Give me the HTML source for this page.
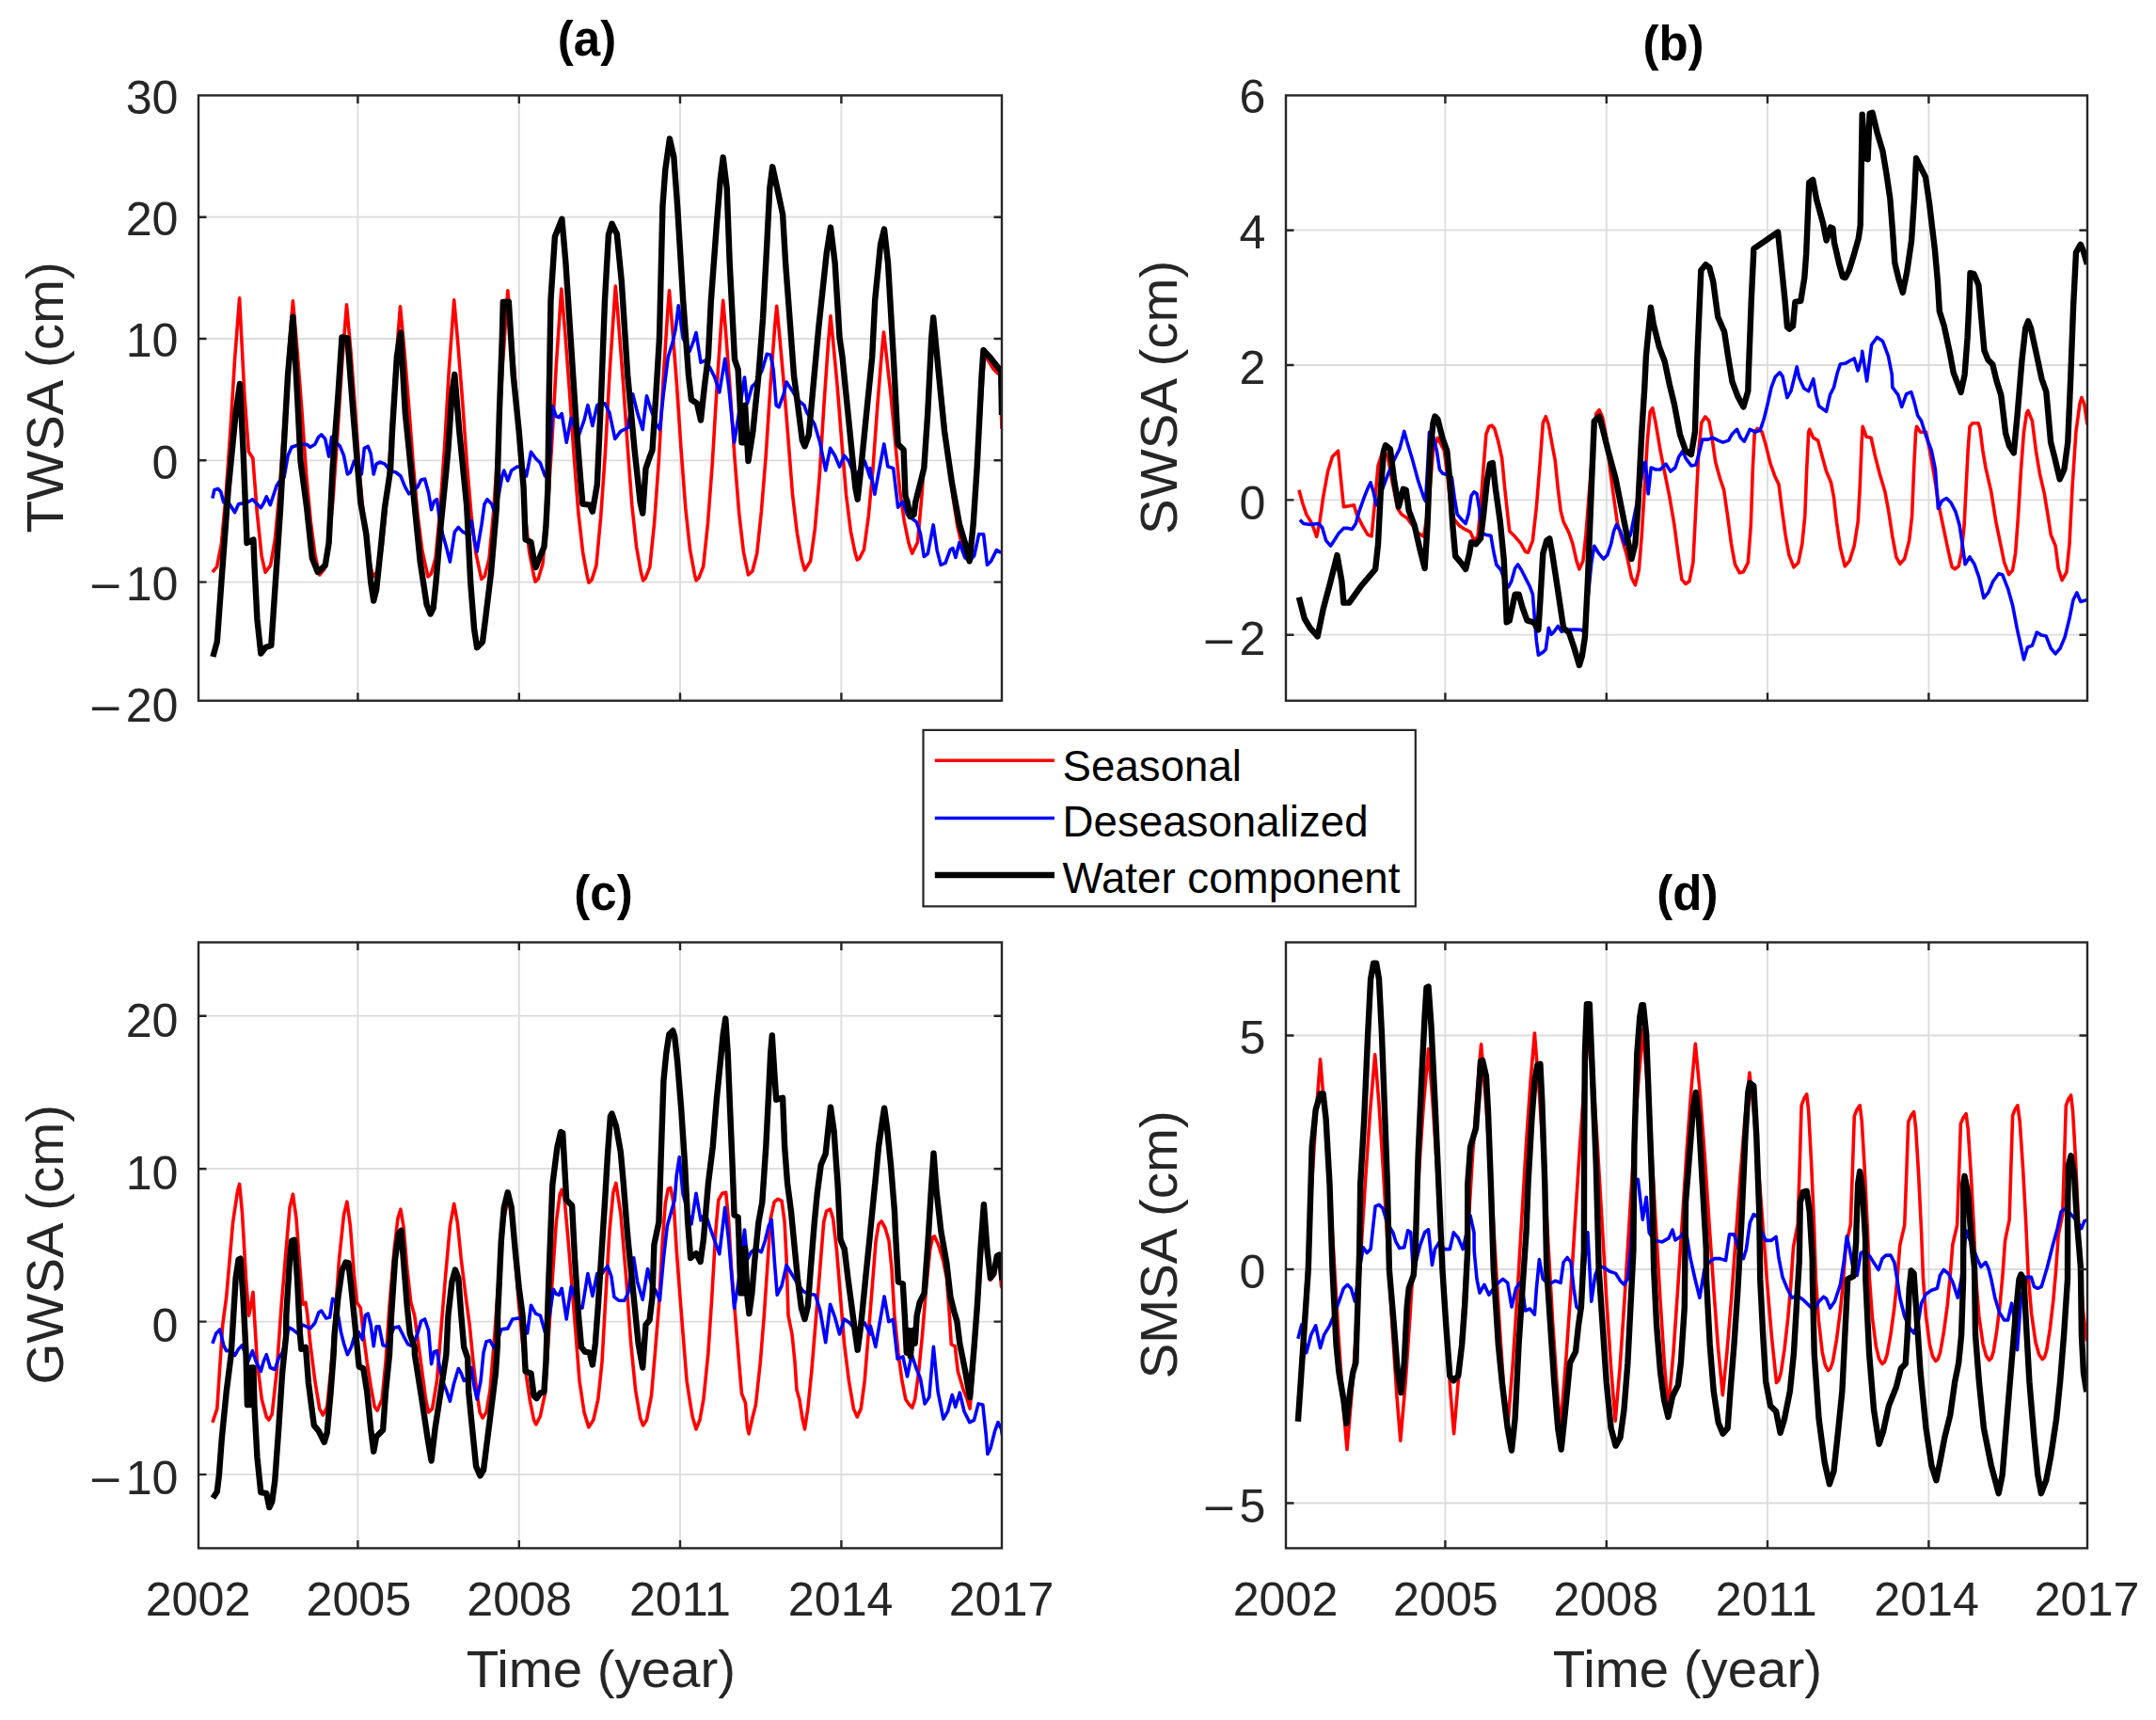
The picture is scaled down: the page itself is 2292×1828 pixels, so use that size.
<!DOCTYPE html>
<html lang="en"><head><meta charset="utf-8"><title>Water storage anomaly components</title>
<style>html,body{margin:0;padding:0;background:#fff}svg{display:block}text{font-family:"Liberation Sans",Arial,Helvetica,sans-serif;fill:#262626}.tk{font-size:50.2px}.lb{font-size:56.4px}.tt{font-size:51px;font-weight:bold;fill:#000}.lg{font-size:45.7px;fill:#000}.ax{fill:none;stroke:#262626;stroke-width:2.4}.gr{stroke:#dcdcdc;stroke-width:1.8;fill:none}.r{fill:none;stroke:#ff0000;stroke-width:3.6;stroke-linejoin:round;stroke-linecap:butt}.b{fill:none;stroke:#0000ff;stroke-width:3.6;stroke-linejoin:round}.k{fill:none;stroke:#000;stroke-width:6.4;stroke-linejoin:round}</style></head><body>
<svg width="2292" height="1828" viewBox="0 0 2292 1828">
<rect width="2292" height="1828" fill="#fff"/>
<g id="panel-a">
<clipPath id="cpa"><rect x="211.0" y="101.4" width="854.0" height="643.3"/></clipPath>
<path class="gr" d="M380.4 101.4 V744.7 M551.8 101.4 V744.7 M723.0 101.4 V744.7 M894.4 101.4 V744.7 M211.0 230.7 H1065.0 M211.0 360.0 H1065.0 M211.0 489.3 H1065.0 M211.0 618.6 H1065.0"/>
<g clip-path="url(#cpa)">
<path class="r" d="M225.9 608.0 L230.6 602.4 L235.4 577.7 L240.1 526.9 L244.9 458.4 L249.6 381.5 L254.6 316.8 L259.8 418.0 L264.3 480.0 L268.8 487.0 L273.3 545.0 L278.1 590.8 L282.1 608.3 L287.6 600.9 L292.3 573.6 L297.1 522.8 L301.8 454.7 L306.5 380.4 L311.4 319.8 L316.0 372.3 L320.8 434.9 L325.5 502.9 L330.3 554.2 L335.0 590.2 L339.7 611.0 L344.5 605.3 L349.2 580.9 L354.0 530.9 L358.7 463.6 L363.5 388.1 L368.5 323.8 L373.0 374.5 L377.7 437.1 L382.5 505.3 L387.2 556.9 L391.9 592.8 L396.5 613.0 L401.4 607.0 L406.2 582.3 L410.9 532.5 L415.7 465.6 L420.4 390.6 L425.5 325.7 L429.9 372.8 L434.6 430.9 L439.4 494.8 L444.1 547.8 L448.9 585.5 L455.0 613.0 L458.4 609.9 L463.1 592.4 L467.8 542.5 L472.6 474.6 L477.3 393.4 L482.7 318.8 L486.8 365.0 L491.6 425.5 L496.3 492.3 L501.1 548.0 L505.8 587.4 L511.8 615.5 L515.3 612.2 L520.0 593.6 L524.8 542.1 L529.5 472.4 L534.3 388.5 L539.8 308.9 L543.7 354.7 L548.5 416.8 L553.2 485.8 L558.0 545.0 L562.7 586.9 L567.5 611.7 L569.1 618.2 L572.2 615.2 L577.0 598.9 L581.7 546.9 L586.4 476.3 L591.2 390.1 L596.8 307.0 L600.7 352.6 L605.4 415.3 L610.2 485.2 L614.9 545.3 L619.7 587.7 L624.4 612.9 L626.0 619.3 L629.1 616.3 L633.9 601.1 L638.6 550.4 L643.4 481.9 L648.1 395.9 L654.3 304.0 L657.6 342.8 L662.3 404.0 L667.1 473.3 L671.8 536.7 L676.6 581.2 L681.3 607.8 L683.6 616.9 L686.1 614.6 L690.8 602.5 L695.6 556.1 L700.3 490.4 L705.0 404.8 L709.8 330.9 L711.5 308.9 L714.5 344.9 L719.3 406.6 L724.0 476.8 L728.8 540.0 L733.5 583.9 L738.3 609.8 L740.0 616.9 L743.0 614.2 L747.7 602.0 L752.5 555.9 L757.2 493.9 L762.0 413.4 L766.7 343.3 L768.7 319.3 L771.5 352.3 L776.2 414.6 L780.9 485.5 L785.7 545.6 L790.4 586.3 L795.5 611.0 L799.9 607.0 L804.7 588.2 L809.4 543.5 L814.2 484.7 L818.9 411.5 L823.6 348.0 L825.7 325.3 L828.4 353.2 L833.1 405.5 L837.9 466.2 L842.6 526.3 L847.4 566.5 L852.1 594.0 L855.5 606.0 L861.6 596.3 L866.3 562.5 L871.1 507.6 L875.8 432.4 L880.6 363.5 L883.0 335.7 L885.3 359.1 L890.1 409.9 L894.8 469.0 L899.5 525.4 L904.3 564.3 L909.0 587.3 L911.3 595.1 L913.8 593.3 L918.5 584.0 L923.3 548.5 L928.0 498.1 L932.8 431.3 L937.5 373.0 L939.5 353.0 L942.2 376.5 L947.0 419.8 L951.7 469.9 L956.5 520.2 L961.2 553.5 L966.0 577.1 L969.7 588.2 L975.5 576.3 L980.2 523.9 L984.9 446.4 L989.7 365.9 L991.5 342.0 L994.4 364.5 L999.2 401.6 L1003.9 445.7 L1008.7 491.9 L1013.4 530.9 L1018.1 560.7 L1022.9 580.5 L1027.5 593.0 L1032.4 583.0 L1037.1 530.1 L1041.9 448.4 L1046.5 377.0 L1051.4 384.3 L1056.1 392.3 L1060.8 396.9 L1063.0 398.0 L1065.0 456.0"/>
<path class="b" d="M225.9 529.7 L227.8 520.8 L231.8 519.4 L234.8 522.8 L237.7 533.7 L240.7 531.7 L244.7 536.7 L249.6 544.6 L253.6 535.7 L258.5 534.7 L263.5 533.7 L268.4 530.7 L272.4 534.7 L277.3 539.7 L280.3 534.7 L283.3 527.8 L287.3 536.7 L290.2 527.8 L294.2 515.9 L298.1 509.9 L302.1 507.0 L306.1 484.2 L310.0 475.3 L316.0 473.3 L321.9 472.3 L325.9 472.3 L329.8 475.3 L334.8 472.3 L338.7 464.4 L341.7 462.0 L345.7 466.4 L349.6 485.2 L352.6 464.4 L356.6 469.3 L361.5 474.3 L365.5 484.2 L369.4 504.0 L372.4 502.0 L376.4 490.1 L380.3 496.1 L384.3 504.0 L387.3 476.3 L391.2 474.3 L394.2 482.2 L397.2 504.0 L400.1 493.1 L404.1 491.1 L409.1 493.1 L413.0 498.1 L417.0 501.0 L420.9 502.0 L425.9 506.0 L430.8 517.9 L434.8 524.8 L439.8 520.8 L443.7 517.9 L447.7 509.9 L451.6 509.0 L455.6 523.8 L458.6 541.6 L461.5 532.7 L464.5 530.7 L467.5 553.5 L470.5 567.4 L474.4 581.2 L478.4 597.1 L483.3 565.4 L487.3 560.4 L492.2 565.4 L496.2 567.4 L501.2 553.5 L504.1 573.3 L507.1 586.2 L512.0 557.5 L515.0 535.7 L518.0 530.7 L522.9 535.7 L525.9 545.6 L529.9 527.8 L533.8 506.0 L535.8 500.0 L539.8 510.9 L543.7 500.0 L549.7 496.1 L555.6 496.1 L559.6 506.0 L564.5 480.2 L569.5 487.2 L574.4 492.1 L579.4 506.0 L584.3 494.1 L587.3 431.7 L591.3 442.6 L594.2 443.6 L597.2 439.6 L602.2 470.3 L607.1 444.6 L615.0 463.4 L621.0 446.6 L624.9 430.7 L629.9 452.5 L634.8 430.7 L638.0 428.7 L643.0 428.7 L647.9 438.6 L653.8 466.4 L659.8 458.4 L667.7 454.5 L672.7 418.8 L677.6 438.6 L683.2 456.5 L687.5 420.8 L692.5 436.7 L697.4 450.5 L701.4 456.5 L705.3 418.8 L710.3 379.2 L715.2 363.4 L718.2 349.5 L721.2 324.8 L726.1 359.4 L733.1 373.3 L737.0 363.4 L740.0 353.5 L745.0 385.2 L749.9 383.2 L754.9 391.1 L759.8 401.0 L764.8 416.9 L770.7 381.2 L774.7 410.9 L780.6 470.3 L785.6 438.6 L791.5 401.0 L794.5 428.7 L799.4 410.9 L803.4 407.0 L810.3 393.1 L815.3 376.3 L819.2 377.2 L822.2 393.1 L825.2 430.7 L828.1 432.7 L833.1 418.8 L836.1 406.0 L842.0 414.9 L847.9 424.8 L854.9 430.7 L857.8 438.6 L865.8 450.5 L871.7 470.3 L877.7 500.0 L882.6 476.3 L887.6 484.2 L892.5 496.1 L897.5 484.2 L902.4 490.1 L909.3 508.0 L914.3 498.1 L919.2 490.1 L925.2 508.0 L925.0 497.6 L929.9 525.3 L934.9 497.6 L939.8 471.9 L943.8 495.7 L949.7 497.6 L954.6 539.1 L959.6 533.2 L964.5 547.0 L969.5 551.0 L974.4 554.9 L978.4 566.8 L982.3 591.5 L986.3 588.5 L992.2 557.9 L996.1 584.6 L1000.1 600.4 L1005.0 598.4 L1010.0 584.6 L1012.9 582.6 L1015.9 592.5 L1019.9 576.7 L1025.8 592.5 L1030.7 596.4 L1035.7 590.5 L1040.6 567.8 L1045.6 567.8 L1049.5 600.4 L1053.5 596.4 L1059.4 584.6 L1064.3 587.5"/>
<path class="k" d="M226.4 698.0 L230.8 682.0 L236.0 610.0 L242.7 520.0 L250.6 439.0 L255.0 408.0 L258.5 478.0 L262.5 577.0 L269.4 573.5 L270.4 599.0 L273.4 658.0 L277.3 694.5 L282.3 688.0 L288.3 686.0 L290.2 658.0 L294.2 599.0 L298.1 540.0 L306.0 399.0 L311.4 336.6 L316.0 419.0 L319.5 490.0 L325.9 537.7 L331.8 593.0 L337.8 608.0 L345.7 601.0 L349.6 577.0 L353.6 498.0 L359.5 419.0 L363.5 358.4 L369.4 359.4 L375.4 438.6 L383.3 533.7 L389.3 567.4 L394.2 618.8 L397.2 638.6 L400.1 626.8 L404.1 589.0 L409.0 539.6 L415.0 500.0 L417.0 458.0 L421.9 379.0 L425.9 353.5 L430.8 438.6 L438.8 517.9 L446.7 597.0 L453.6 642.6 L457.6 652.5 L460.6 646.6 L463.5 618.8 L468.5 559.4 L474.4 500.0 L476.4 478.0 L480.4 418.8 L483.3 398.0 L488.3 458.4 L496.2 537.7 L500.2 618.8 L504.1 668.4 L507.1 688.2 L513.0 682.2 L516.0 658.4 L522.0 608.9 L527.9 539.6 L530.9 438.0 L533.8 359.4 L534.8 321.0 L540.8 320.8 L545.7 399.0 L551.7 458.4 L556.6 517.9 L558.6 573.3 L564.5 576.2 L567.5 595.0 L569.5 603.0 L573.4 593.0 L578.4 581.2 L580.4 559.4 L582.4 519.8 L583.4 438.6 L585.5 318.9 L589.9 251.5 L597.4 232.7 L601.4 279.3 L607.2 368.0 L613.1 458.4 L617.0 508.0 L619.4 535.7 L626.9 536.7 L629.9 543.6 L634.8 515.0 L639.0 423.0 L643.0 318.9 L646.9 249.5 L650.5 237.7 L655.8 248.6 L660.8 299.0 L667.2 398.5 L674.6 478.3 L680.6 533.7 L683.2 545.6 L686.5 498.0 L690.5 486.2 L693.5 478.3 L697.4 418.8 L701.0 359.0 L704.4 219.8 L707.3 180.2 L711.9 147.5 L716.3 166.4 L720.2 219.8 L726.2 318.9 L732.1 400.0 L735.0 424.8 L741.0 428.7 L745.0 446.6 L748.9 410.9 L752.9 379.2 L755.9 318.9 L761.8 239.6 L765.8 190.1 L768.7 167.3 L772.7 200.0 L775.7 279.3 L781.0 382.0 L784.6 392.6 L786.5 426.8 L788.5 470.3 L791.5 470.3 L792.1 430.7 L795.5 490.1 L800.4 458.4 L806.4 399.0 L811.0 339.0 L815.3 259.4 L818.3 200.0 L821.2 177.3 L826.2 200.0 L832.1 227.8 L835.1 279.3 L841.0 358.5 L844.0 399.0 L847.9 428.7 L852.9 468.3 L855.5 474.3 L859.8 462.4 L863.8 418.8 L870.2 349.0 L878.7 269.3 L883.0 241.6 L887.6 279.3 L892.5 358.5 L895.5 379.2 L903.4 458.4 L909.3 517.9 L911.7 530.7 L915.3 498.0 L921.2 438.6 L927.2 379.2 L930.2 318.9 L936.1 259.4 L940.0 243.6 L944.0 279.3 L950.3 388.0 L954.6 471.9 L960.6 477.9 L962.5 527.3 L964.5 533.0 L967.5 549.0 L971.5 547.0 L973.4 533.0 L977.4 517.4 L982.3 497.6 L986.3 438.3 L990.2 359.3 L992.2 337.5 L998.1 398.8 L1004.0 458.1 L1012.0 513.4 L1019.9 556.9 L1025.8 576.7 L1030.7 596.4 L1034.7 556.9 L1038.6 497.6 L1041.6 438.3 L1043.6 398.8 L1045.5 372.1 L1053.5 381.0 L1061.4 390.9 L1064.3 394.9 L1065.0 441.0"/>
</g>
<path class="ax" d="M380.4 744.7 v-8.5 M380.4 101.4 v8.5 M551.8 744.7 v-8.5 M551.8 101.4 v8.5 M723.0 744.7 v-8.5 M723.0 101.4 v8.5 M894.4 744.7 v-8.5 M894.4 101.4 v8.5 M211.0 230.7 h8.5 M1065.0 230.7 h-8.5 M211.0 360.0 h8.5 M1065.0 360.0 h-8.5 M211.0 489.3 h8.5 M1065.0 489.3 h-8.5 M211.0 618.6 h8.5 M1065.0 618.6 h-8.5"/>
<rect class="ax" x="211.0" y="101.4" width="854.0" height="643.3"/>
<text class="tk" text-anchor="end" x="189.5" y="120.5">30</text>
<text class="tk" text-anchor="end" x="189.5" y="249.8">20</text>
<text class="tk" text-anchor="end" x="189.5" y="379.2">10</text>
<text class="tk" text-anchor="end" x="189.5" y="508.5">0</text>
<text class="tk" y="637.9"><tspan x="95.0" dy="2.3" textLength="34.2" lengthAdjust="spacingAndGlyphs">−</tspan><tspan text-anchor="end" x="189.5" dy="-2.3">10</tspan></text>
<text class="tk" y="767.2"><tspan x="95.0" dy="2.3" textLength="34.2" lengthAdjust="spacingAndGlyphs">−</tspan><tspan text-anchor="end" x="189.5" dy="-2.3">20</tspan></text>
<text class="lb" text-anchor="middle" transform="translate(67.4 422.4) rotate(-90)">TWSA (cm)</text>
<text class="tt" text-anchor="middle" x="624.0" y="59.0">(a)</text>
</g>
<g id="panel-b">
<clipPath id="cpb"><rect x="1367.0" y="101.4" width="852.0" height="643.3"/></clipPath>
<path class="gr" d="M1536.4 101.4 V744.7 M1707.8 101.4 V744.7 M1879.0 101.4 V744.7 M2050.4 101.4 V744.7 M1367.0 244.7 H2219.0 M1367.0 388.0 H2219.0 M1367.0 531.4 H2219.0 M1367.0 674.7 H2219.0"/>
<g clip-path="url(#cpb)">
<path class="r" d="M1380.9 520.8 L1384.8 534.7 L1388.8 546.6 L1394.7 556.5 L1399.7 570.3 L1402.7 556.5 L1406.6 528.7 L1411.6 501.0 L1416.5 485.2 L1422.5 479.2 L1425.4 508.9 L1428.4 538.6 L1434.3 537.7 L1439.3 536.7 L1442.3 546.6 L1448.2 558.4 L1454.1 568.4 L1458.1 569.9 L1461.1 538.6 L1465.0 495.1 L1470.0 479.2 L1474.9 483.2 L1479.9 510.9 L1485.8 540.6 L1489.8 546.6 L1495.7 550.5 L1501.7 558.4 L1507.6 566.4 L1513.6 570.3 L1518.5 538.6 L1523.5 479.2 L1528.4 465.4 L1535.4 479.2 L1539.3 510.9 L1542.3 538.6 L1546.2 552.5 L1551.2 558.4 L1557.1 562.4 L1563.1 565.4 L1567.0 574.3 L1571.0 570.3 L1574.0 538.6 L1576.9 499.0 L1579.9 461.4 L1582.9 453.5 L1585.9 452.1 L1588.8 455.5 L1592.8 469.3 L1596.7 487.1 L1599.7 518.8 L1602.7 546.6 L1604.7 564.4 L1610.6 570.3 L1616.6 577.3 L1621.5 586.2 L1624.5 587.2 L1629.4 574.3 L1633.4 538.6 L1637.4 489.1 L1640.3 449.5 L1643.3 442.6 L1646.3 451.5 L1650.2 473.3 L1653.2 489.1 L1656.2 518.8 L1659.1 542.6 L1662.1 554.5 L1668.0 566.4 L1672.0 578.3 L1676.0 596.1 L1678.9 605.0 L1682.9 596.1 L1685.9 568.4 L1689.8 518.8 L1693.8 469.3 L1696.8 439.6 L1700.1 435.7 L1703.7 443.6 L1707.7 465.4 L1711.6 499.0 L1715.6 528.7 L1719.5 556.5 L1723.5 570.3 L1729.4 590.1 L1734.4 613.9 L1738.4 621.8 L1742.3 606.0 L1745.3 568.4 L1748.3 518.8 L1751.2 469.3 L1754.2 437.6 L1756.8 433.7 L1760.1 449.5 L1765.1 479.2 L1771.0 508.9 L1775.0 528.7 L1780.0 558.4 L1783.9 588.2 L1787.9 615.9 L1792.0 620.6 L1796.0 617.7 L1799.9 597.9 L1802.9 538.4 L1805.9 479.0 L1808.8 449.3 L1812.8 443.0 L1816.8 447.3 L1819.7 463.2 L1823.7 490.9 L1828.6 508.7 L1832.6 520.6 L1836.6 548.4 L1840.5 578.1 L1844.5 599.8 L1849.4 608.8 L1853.4 607.8 L1858.3 597.9 L1861.3 558.3 L1863.3 498.8 L1865.3 459.2 L1868.3 455.3 L1873.2 459.2 L1877.2 473.1 L1882.1 492.9 L1887.1 506.8 L1891.0 514.7 L1894.0 538.4 L1898.0 568.2 L1901.9 589.9 L1906.9 602.8 L1911.8 597.9 L1915.8 578.1 L1918.8 548.4 L1920.7 498.8 L1922.7 459.2 L1923.7 456.3 L1927.7 465.2 L1932.6 468.1 L1936.6 483.0 L1941.5 500.8 L1946.5 512.7 L1949.5 528.5 L1952.4 554.3 L1956.4 582.0 L1961.3 601.8 L1966.3 595.9 L1971.2 580.0 L1975.2 554.3 L1977.2 518.6 L1979.2 469.1 L1980.2 453.3 L1984.1 464.2 L1989.1 465.2 L1993.0 483.0 L1998.0 502.8 L2003.9 522.6 L2007.9 544.4 L2011.8 570.1 L2015.8 591.9 L2019.8 599.4 L2024.7 593.9 L2029.7 574.1 L2032.6 548.4 L2034.6 498.8 L2036.6 459.2 L2037.6 453.3 L2041.6 459.2 L2047.5 459.2 L2051.5 479.0 L2056.4 506.8 L2061.4 538.4 L2066.3 562.2 L2071.3 586.0 L2075.2 602.8 L2078.2 604.8 L2082.2 601.8 L2085.1 588.0 L2088.1 558.3 L2090.1 518.6 L2092.1 479.0 L2094.0 453.3 L2097.0 449.7 L2103.0 449.7 L2104.9 455.3 L2107.9 479.0 L2110.9 496.9 L2116.8 522.6 L2121.8 554.3 L2126.7 578.1 L2130.7 597.9 L2135.6 610.7 L2139.6 605.8 L2142.6 588.0 L2145.5 548.4 L2148.5 498.8 L2151.5 459.2 L2154.4 439.4 L2156.0 436.4 L2160.4 447.3 L2164.4 479.0 L2168.3 502.8 L2173.3 524.6 L2177.2 548.4 L2180.2 568.2 L2185.1 580.0 L2188.1 603.8 L2192.1 616.7 L2197.0 607.8 L2200.0 578.1 L2203.0 518.6 L2206.9 459.2 L2210.9 429.5 L2212.9 422.6 L2215.8 429.5 L2219.0 451.3"/>
<path class="b" d="M1381.9 552.5 L1385.8 556.5 L1392.7 557.5 L1401.7 556.5 L1405.6 560.4 L1409.6 574.3 L1414.5 580.2 L1418.5 574.3 L1423.4 566.4 L1428.4 561.4 L1433.3 561.4 L1437.3 562.4 L1441.3 556.5 L1445.2 542.6 L1450.2 528.7 L1454.1 518.8 L1457.1 512.9 L1460.1 522.8 L1463.1 536.7 L1470.0 518.8 L1475.9 503.0 L1481.9 489.1 L1487.8 477.2 L1492.8 458.4 L1495.7 469.3 L1501.7 489.1 L1507.6 510.9 L1513.6 528.7 L1515.5 532.7 L1517.5 499.0 L1519.5 459.4 L1523.5 463.4 L1527.4 479.2 L1530.4 499.0 L1533.4 503.0 L1539.3 505.0 L1543.3 507.0 L1546.2 528.7 L1549.2 546.6 L1554.2 552.5 L1558.1 556.5 L1561.1 546.6 L1564.1 526.8 L1567.0 522.8 L1570.0 524.8 L1573.0 542.6 L1575.0 566.4 L1579.9 568.4 L1584.9 569.3 L1587.8 586.2 L1590.8 600.0 L1595.8 606.0 L1599.7 617.9 L1603.7 623.8 L1606.7 617.9 L1610.6 604.0 L1613.6 600.0 L1617.5 606.0 L1622.5 615.9 L1626.5 623.8 L1629.4 631.7 L1631.4 657.5 L1633.4 681.2 L1635.4 696.1 L1640.3 693.1 L1643.3 690.2 L1646.3 667.4 L1649.2 674.3 L1652.2 671.3 L1656.2 665.4 L1660.1 671.3 L1666.1 669.4 L1673.0 669.0 L1680.9 669.4 L1683.9 671.3 L1687.9 637.7 L1691.8 598.1 L1694.8 580.2 L1699.7 588.2 L1704.7 594.1 L1708.7 590.1 L1712.6 578.3 L1715.6 564.4 L1718.6 557.5 L1722.5 564.4 L1727.5 578.3 L1733.4 568.4 L1743.3 518.8 L1747.3 493.1 L1749.3 491.1 L1752.2 524.8 L1755.2 497.0 L1760.1 499.0 L1765.1 499.0 L1771.0 493.1 L1776.0 501.0 L1780.9 497.0 L1784.9 485.2 L1788.9 479.2 L1792.0 487.0 L1797.9 494.9 L1802.9 493.9 L1806.9 479.0 L1809.8 467.1 L1815.8 467.1 L1820.7 465.2 L1826.7 468.1 L1831.6 470.1 L1837.6 468.1 L1841.5 461.2 L1846.5 456.3 L1850.4 465.2 L1854.4 469.1 L1860.3 456.3 L1866.3 459.2 L1871.2 457.2 L1875.2 445.4 L1879.1 429.5 L1883.1 411.7 L1887.1 400.8 L1892.0 395.8 L1895.0 399.8 L1899.9 422.6 L1903.9 415.7 L1907.9 399.8 L1910.2 389.9 L1912.8 401.8 L1917.8 412.7 L1922.7 415.7 L1927.7 402.8 L1930.6 419.6 L1933.6 431.5 L1941.5 437.4 L1945.5 419.6 L1949.5 411.7 L1953.4 395.8 L1956.4 386.9 L1962.3 385.9 L1967.3 383.0 L1971.2 381.0 L1975.2 393.9 L1979.2 380.0 L1979.7 373.3 L1984.6 405.0 L1989.6 366.4 L1995.5 358.5 L2001.4 362.4 L2007.4 378.3 L2011.3 398.1 L2011.8 411.7 L2017.8 419.6 L2021.7 432.5 L2026.7 418.6 L2031.7 416.6 L2034.6 425.6 L2038.6 441.4 L2042.5 447.3 L2047.5 463.2 L2053.4 479.0 L2057.4 498.8 L2060.4 540.4 L2064.3 532.5 L2069.3 529.5 L2074.2 534.5 L2079.2 544.4 L2083.1 558.3 L2086.1 578.1 L2089.1 599.8 L2094.0 591.9 L2099.0 599.8 L2103.9 613.7 L2108.9 635.5 L2113.8 629.6 L2118.8 617.7 L2124.7 609.7 L2128.7 610.7 L2134.6 625.6 L2139.6 643.4 L2144.5 669.2 L2151.5 700.9 L2155.4 688.0 L2160.4 686.0 L2165.3 672.1 L2170.3 675.1 L2175.2 676.1 L2180.2 689.0 L2185.1 694.9 L2190.1 689.0 L2195.1 677.1 L2200.0 657.3 L2204.0 637.5 L2207.9 630.0 L2211.9 639.5 L2219.0 637.5"/>
<path class="k" d="M1380.9 634.7 L1386.8 657.5 L1392.7 667.4 L1400.7 676.3 L1406.6 647.6 L1414.5 617.9 L1421.5 590.1 L1426.4 617.9 L1428.4 640.6 L1434.3 640.6 L1446.2 623.8 L1462.1 605.0 L1465.0 578.3 L1468.0 518.8 L1471.0 479.2 L1473.0 473.3 L1477.9 477.2 L1481.9 508.9 L1486.8 538.6 L1491.8 519.8 L1494.7 520.8 L1497.7 542.6 L1503.7 558.4 L1509.6 584.2 L1514.6 604.0 L1517.5 558.4 L1520.5 479.2 L1523.5 449.5 L1525.4 442.6 L1528.4 445.6 L1533.4 465.4 L1538.3 479.2 L1541.3 510.9 L1544.3 558.4 L1547.2 591.1 L1553.2 598.1 L1558.1 605.0 L1562.1 588.2 L1564.1 576.3 L1569.0 578.3 L1574.0 572.3 L1576.9 548.5 L1580.9 510.9 L1583.9 493.1 L1586.8 492.1 L1589.8 518.8 L1594.8 554.5 L1598.7 594.1 L1600.7 637.7 L1601.7 661.4 L1604.7 659.5 L1610.6 631.7 L1614.6 631.7 L1618.5 645.6 L1623.5 659.5 L1630.4 661.4 L1635.4 669.4 L1637.4 637.7 L1640.3 588.2 L1644.3 574.3 L1647.3 572.3 L1650.2 588.2 L1656.2 627.8 L1662.1 667.4 L1668.0 672.3 L1673.0 687.2 L1678.9 707.0 L1681.9 697.1 L1684.9 677.3 L1687.9 617.9 L1691.8 518.8 L1694.8 447.5 L1700.1 442.6 L1703.7 455.5 L1709.6 479.2 L1717.6 508.9 L1723.5 538.6 L1729.4 568.4 L1734.4 594.1 L1738.4 578.3 L1741.3 538.6 L1745.3 459.4 L1748.3 411.9 L1749.9 378.3 L1754.9 326.8 L1757.8 344.6 L1763.8 368.4 L1769.7 384.2 L1774.7 408.0 L1780.0 430.0 L1786.0 462.0 L1792.0 479.0 L1797.9 483.0 L1801.9 459.0 L1804.4 378.3 L1808.3 287.2 L1813.3 281.2 L1817.2 284.2 L1821.2 299.1 L1826.2 336.7 L1833.1 352.5 L1837.0 378.3 L1841.5 405.7 L1847.5 421.6 L1853.4 432.5 L1858.3 415.7 L1858.8 398.1 L1861.8 318.9 L1864.4 264.4 L1890.1 246.6 L1893.5 279.3 L1897.5 318.9 L1900.0 347.6 L1902.4 349.6 L1906.0 346.6 L1908.4 320.8 L1914.3 319.9 L1918.3 295.1 L1920.2 269.4 L1922.2 219.8 L1923.2 194.1 L1927.2 191.1 L1931.1 211.9 L1938.1 237.7 L1941.6 255.5 L1946.0 241.6 L1948.4 242.6 L1949.9 257.5 L1954.9 279.3 L1958.9 294.1 L1961.8 295.1 L1965.8 287.2 L1970.7 271.3 L1975.7 253.5 L1977.7 239.6 L1978.7 180.2 L1979.7 121.8 L1982.6 168.3 L1985.6 169.3 L1987.6 120.8 L1990.5 119.8 L1995.5 140.6 L2001.4 160.4 L2005.4 184.2 L2009.4 211.9 L2012.3 249.5 L2014.3 279.3 L2018.3 296.1 L2022.8 310.9 L2027.2 289.2 L2032.1 255.5 L2035.1 209.9 L2037.1 168.3 L2041.0 176.3 L2047.0 188.1 L2051.0 215.9 L2056.9 265.4 L2059.9 299.1 L2061.8 330.7 L2066.8 346.6 L2072.7 374.3 L2076.7 396.1 L2084.6 416.9 L2088.6 398.1 L2091.6 358.5 L2093.5 318.9 L2094.5 290.1 L2098.5 291.1 L2103.4 303.0 L2106.4 338.7 L2109.4 372.3 L2113.3 382.2 L2118.3 387.2 L2122.3 404.0 L2127.3 420.0 L2132.1 460.3 L2136.0 473.8 L2140.8 481.4 L2144.6 441.1 L2149.4 383.6 L2153.2 349.0 L2156.1 341.3 L2159.0 349.0 L2164.8 375.9 L2170.5 402.7 L2175.3 416.2 L2180.1 469.9 L2184.0 485.3 L2189.7 509.3 L2194.5 498.7 L2198.3 469.9 L2201.2 402.7 L2204.1 326.0 L2207.0 268.4 L2211.8 259.8 L2214.7 266.5 L2218.9 280.9"/>
</g>
<path class="ax" d="M1536.4 744.7 v-8.5 M1536.4 101.4 v8.5 M1707.8 744.7 v-8.5 M1707.8 101.4 v8.5 M1879.0 744.7 v-8.5 M1879.0 101.4 v8.5 M2050.4 744.7 v-8.5 M2050.4 101.4 v8.5 M1367.0 244.7 h8.5 M2219.0 244.7 h-8.5 M1367.0 388.0 h8.5 M2219.0 388.0 h-8.5 M1367.0 531.4 h8.5 M2219.0 531.4 h-8.5 M1367.0 674.7 h8.5 M2219.0 674.7 h-8.5"/>
<rect class="ax" x="1367.0" y="101.4" width="852.0" height="643.3"/>
<text class="tk" text-anchor="end" x="1345.5" y="120.3">6</text>
<text class="tk" text-anchor="end" x="1345.5" y="264.3">4</text>
<text class="tk" text-anchor="end" x="1345.5" y="408.2">2</text>
<text class="tk" text-anchor="end" x="1345.5" y="552.2">0</text>
<text class="tk" y="696.2"><tspan x="1278.8" dy="2.3" textLength="34.2" lengthAdjust="spacingAndGlyphs">−</tspan><tspan text-anchor="end" x="1345.5" dy="-2.3">2</tspan></text>
<text class="lb" text-anchor="middle" transform="translate(1251.2 422.4) rotate(-90)">SWSA (cm)</text>
<text class="tt" text-anchor="middle" x="1779.0" y="63.6">(b)</text>
</g>
<g id="panel-c">
<clipPath id="cpc"><rect x="211.0" y="1001.5" width="854.0" height="643.9"/></clipPath>
<path class="gr" d="M380.4 1001.5 V1645.4 M551.8 1001.5 V1645.4 M723.0 1001.5 V1645.4 M894.4 1001.5 V1645.4 M211.0 1079.7 H1065.0 M211.0 1242.2 H1065.0 M211.0 1404.6 H1065.0 M211.0 1567.1 H1065.0"/>
<g clip-path="url(#cpc)">
<path class="r" d="M225.9 1511.9 L230.8 1497.1 L236.7 1408.0 L240.7 1378.3 L247.6 1299.0 L252.6 1265.4 L254.6 1258.4 L257.5 1289.1 L261.5 1358.4 L264.5 1398.1 L266.5 1388.2 L269.0 1373.3 L270.4 1398.1 L273.4 1447.6 L278.3 1487.2 L283.3 1506.0 L285.9 1509.0 L289.2 1503.0 L294.2 1457.5 L299.1 1388.2 L304.1 1328.7 L308.0 1283.2 L311.4 1269.3 L315.0 1295.1 L318.9 1348.5 L321.9 1386.2 L324.9 1384.2 L326.9 1398.1 L329.8 1427.8 L334.8 1467.4 L339.7 1497.1 L343.3 1504.0 L347.7 1495.1 L351.6 1457.5 L355.6 1408.0 L360.5 1338.6 L365.5 1291.1 L368.9 1277.2 L372.4 1303.0 L376.4 1354.5 L379.4 1384.2 L383.3 1390.1 L386.3 1417.9 L390.2 1447.6 L394.2 1473.3 L398.2 1495.1 L401.1 1499.1 L406.1 1487.2 L410.0 1447.6 L414.0 1388.2 L419.0 1328.7 L422.9 1295.1 L425.9 1285.2 L428.9 1303.0 L432.8 1348.5 L436.8 1384.2 L440.7 1398.1 L444.7 1427.8 L448.7 1457.5 L452.6 1487.2 L455.6 1501.0 L459.6 1497.1 L464.5 1467.4 L468.5 1417.9 L473.4 1358.4 L478.4 1303.0 L482.7 1279.2 L486.3 1299.0 L490.3 1338.6 L495.2 1378.3 L499.2 1408.0 L503.1 1447.6 L507.1 1481.2 L510.1 1501.0 L513.0 1507.0 L517.0 1501.0 L521.0 1477.3 L525.9 1417.9 L530.9 1348.5 L535.8 1295.1 L540.2 1273.3 L543.7 1289.1 L547.7 1338.6 L551.7 1388.2 L555.6 1427.8 L559.6 1463.4 L563.5 1489.2 L567.5 1509.0 L569.9 1513.9 L574.4 1505.0 L579.4 1481.2 L583.4 1417.9 L587.3 1358.4 L591.3 1299.0 L595.2 1269.3 L597.2 1264.4 L600.2 1275.3 L604.1 1318.8 L608.1 1368.4 L612.1 1417.9 L616.0 1467.4 L621.0 1501.0 L625.9 1516.9 L630.9 1509.0 L635.8 1487.2 L640.0 1447.6 L643.9 1378.3 L647.9 1308.9 L651.9 1267.3 L654.8 1257.4 L659.8 1289.1 L665.7 1358.4 L670.7 1427.8 L675.6 1477.3 L680.6 1507.0 L683.6 1514.9 L687.5 1509.0 L692.5 1483.2 L696.4 1437.7 L700.4 1388.2 L704.3 1318.8 L707.3 1279.2 L710.3 1263.4 L712.9 1262.4 L716.2 1279.2 L719.2 1328.7 L722.2 1368.4 L726.1 1417.9 L730.1 1467.4 L733.1 1487.2 L736.0 1505.0 L740.0 1518.9 L744.0 1509.0 L747.9 1487.2 L752.9 1437.7 L756.8 1378.3 L760.8 1308.9 L763.8 1275.3 L767.7 1268.3 L771.7 1267.3 L774.7 1299.0 L777.6 1348.5 L781.6 1398.1 L785.6 1447.6 L788.5 1481.2 L792.5 1491.1 L794.5 1516.9 L796.1 1523.8 L799.4 1509.0 L803.4 1493.1 L808.3 1447.6 L812.3 1398.1 L816.3 1338.6 L819.2 1295.1 L823.2 1277.2 L827.1 1274.3 L831.1 1276.3 L834.1 1299.0 L836.1 1338.6 L838.0 1398.1 L842.0 1417.9 L845.0 1447.6 L847.0 1477.3 L849.9 1487.2 L852.9 1507.0 L855.5 1518.9 L858.8 1497.1 L862.8 1457.5 L867.7 1398.1 L871.7 1348.5 L875.7 1299.0 L878.6 1287.1 L882.6 1285.2 L885.6 1295.1 L889.5 1328.7 L893.5 1378.3 L897.5 1427.8 L902.4 1467.4 L907.4 1497.1 L911.3 1506.0 L915.3 1497.1 L919.2 1467.4 L923.2 1417.9 L927.2 1368.4 L931.1 1318.8 L934.1 1301.0 L937.1 1298.0 L941.0 1305.0 L945.0 1318.8 L948.0 1348.5 L950.9 1398.1 L954.9 1437.7 L958.9 1467.4 L962.8 1487.2 L966.8 1493.1 L969.7 1496.1 L972.7 1487.2 L976.7 1457.5 L980.6 1417.9 L984.6 1368.4 L988.6 1328.7 L991.5 1314.9 L993.5 1313.9 L997.5 1322.8 L1002.4 1338.6 L1006.4 1358.4 L1009.4 1398.1 L1011.3 1428.8 L1015.3 1430.7 L1018.3 1457.5 L1024.2 1477.3 L1028.2 1487.2 L1031.1 1497.1 L1035.5 1444.2 L1039.4 1393.0 L1042.9 1339.5 L1046.4 1297.7 L1049.9 1334.9 L1052.9 1360.5 L1056.4 1355.8 L1059.9 1339.5 L1062.2 1338.4 L1064.5 1367.4 L1065.5 1368.6"/>
<path class="b" d="M225.9 1427.8 L229.8 1416.9 L233.8 1412.9 L237.7 1429.7 L240.7 1435.7 L245.7 1434.7 L249.6 1440.6 L253.6 1433.7 L257.5 1429.7 L263.5 1447.6 L268.4 1435.7 L272.4 1447.6 L277.3 1457.5 L280.3 1446.6 L283.3 1439.7 L287.3 1453.5 L292.2 1455.5 L296.2 1443.6 L300.1 1437.7 L304.1 1423.8 L307.1 1410.9 L311.0 1412.9 L316.0 1416.9 L321.9 1408.0 L329.8 1411.9 L334.8 1406.0 L338.7 1395.1 L341.7 1393.1 L346.7 1401.0 L350.6 1400.0 L353.6 1380.2 L356.6 1382.2 L359.5 1398.1 L362.5 1415.9 L365.5 1427.8 L369.4 1439.7 L373.4 1431.7 L377.4 1417.9 L381.3 1415.9 L385.3 1423.8 L388.3 1398.1 L391.2 1396.1 L394.2 1408.0 L397.2 1430.7 L400.1 1409.9 L403.1 1409.9 L407.1 1429.7 L411.0 1430.7 L416.0 1417.9 L419.0 1410.9 L423.9 1409.9 L428.9 1419.8 L433.8 1428.8 L438.8 1430.7 L443.7 1417.9 L447.7 1404.0 L451.6 1402.0 L455.6 1413.9 L458.6 1449.6 L461.5 1436.7 L464.5 1435.7 L467.5 1453.5 L470.5 1467.4 L474.4 1477.3 L478.4 1489.2 L482.3 1471.3 L487.3 1454.5 L490.3 1459.5 L493.2 1467.4 L496.2 1465.4 L501.2 1453.5 L504.1 1473.3 L507.1 1487.2 L511.1 1467.4 L514.0 1437.7 L517.0 1425.8 L521.0 1424.8 L525.9 1433.7 L532.8 1412.9 L539.8 1411.9 L544.7 1402.0 L550.7 1401.0 L555.6 1402.0 L560.6 1416.9 L564.5 1387.2 L569.5 1396.1 L574.4 1398.1 L579.4 1415.9 L584.3 1398.1 L588.3 1370.3 L591.3 1375.3 L594.2 1376.3 L597.2 1369.3 L602.2 1402.0 L607.1 1367.4 L615.0 1388.2 L619.0 1390.1 L624.9 1353.5 L629.9 1377.3 L634.8 1353.5 L638.0 1356.5 L642.0 1350.5 L645.9 1345.6 L649.9 1356.5 L652.9 1378.3 L657.8 1382.2 L663.7 1382.2 L667.7 1374.3 L671.7 1348.5 L673.7 1336.7 L677.6 1362.4 L683.2 1381.2 L688.5 1348.5 L692.5 1364.4 L697.4 1372.3 L701.4 1382.2 L705.3 1338.6 L709.3 1303.0 L714.3 1285.2 L717.2 1275.3 L719.2 1249.5 L722.2 1229.7 L726.1 1269.3 L735.0 1301.0 L740.0 1268.3 L745.0 1297.0 L749.9 1289.1 L754.9 1305.0 L759.8 1318.8 L764.8 1332.7 L770.7 1283.2 L774.7 1318.8 L780.6 1390.1 L785.6 1358.4 L791.5 1307.0 L794.5 1338.6 L798.4 1330.7 L803.4 1326.8 L809.3 1330.7 L813.3 1318.8 L817.2 1303.0 L820.2 1296.1 L823.2 1338.6 L826.2 1376.3 L831.1 1366.4 L836.1 1344.6 L842.0 1354.5 L847.9 1364.4 L853.9 1372.3 L859.8 1375.3 L866.8 1376.3 L871.7 1392.1 L877.7 1426.8 L882.6 1386.2 L887.6 1400.0 L892.5 1417.9 L897.5 1402.0 L903.4 1406.0 L909.3 1413.9 L919.2 1406.0 L925.2 1417.9 L925.4 1409.3 L930.8 1431.4 L936.6 1397.7 L940.1 1377.9 L944.8 1404.7 L949.4 1402.3 L954.1 1444.2 L959.9 1441.9 L964.5 1462.8 L969.2 1439.5 L973.8 1453.5 L978.5 1465.1 L983.1 1491.9 L987.8 1484.9 L992.4 1431.4 L997.1 1479.1 L1002.9 1508.1 L1007.6 1500.0 L1012.2 1482.6 L1015.7 1495.3 L1020.3 1480.2 L1025.0 1500.0 L1030.8 1511.6 L1035.5 1509.3 L1040.1 1491.9 L1044.8 1493.0 L1048.3 1525.6 L1049.9 1545.3 L1052.9 1539.5 L1057.6 1520.9 L1061.0 1511.6 L1064.5 1518.6 L1065.5 1525.6"/>
<path class="k" d="M226.4 1592.1 L230.8 1585.2 L232.8 1568.4 L235.8 1528.7 L240.7 1479.2 L245.7 1439.6 L250.6 1358.4 L253.6 1338.6 L255.6 1337.7 L258.5 1378.3 L261.5 1437.7 L262.9 1493.1 L265.5 1493.1 L267.1 1453.5 L269.4 1453.5 L270.4 1493.1 L273.4 1548.5 L277.3 1586.2 L283.3 1587.2 L286.3 1602.0 L289.2 1596.1 L292.2 1574.3 L296.2 1518.8 L300.1 1459.4 L304.1 1419.8 L304.3 1398.1 L308.0 1338.6 L310.0 1318.8 L313.0 1317.8 L316.0 1358.4 L318.9 1417.9 L320.3 1433.7 L324.9 1431.7 L325.1 1432.7 L327.9 1469.3 L333.8 1514.9 L338.7 1520.8 L344.7 1532.7 L347.7 1522.8 L351.6 1479.2 L354.6 1439.6 L355.6 1417.9 L359.5 1378.3 L363.5 1350.5 L367.5 1341.6 L370.4 1342.2 L373.4 1368.4 L377.4 1408.0 L381.7 1452.5 L386.3 1454.5 L390.2 1479.2 L394.2 1518.8 L397.2 1542.6 L400.1 1526.8 L407.1 1519.8 L410.0 1479.2 L414.0 1439.6 L416.0 1398.1 L420.0 1338.6 L423.9 1310.9 L426.5 1307.9 L428.9 1338.6 L432.8 1388.2 L435.8 1417.9 L440.7 1431.7 L440.9 1439.6 L448.7 1489.1 L454.6 1528.7 L458.6 1552.5 L462.5 1518.8 L468.5 1479.2 L474.4 1439.6 L476.4 1398.1 L480.4 1362.4 L483.9 1349.5 L487.3 1358.4 L490.3 1398.1 L493.2 1431.7 L497.2 1443.6 L498.2 1479.2 L502.1 1518.8 L506.1 1558.4 L510.5 1568.4 L514.0 1562.4 L517.0 1538.6 L522.0 1499.0 L526.9 1459.4 L528.9 1429.7 L529.1 1398.1 L532.8 1318.8 L535.8 1283.2 L539.8 1267.3 L543.7 1283.2 L547.7 1328.7 L551.7 1368.4 L555.6 1398.1 L558.6 1457.5 L564.5 1459.5 L567.5 1483.2 L570.5 1486.2 L574.4 1480.3 L578.4 1479.3 L580.4 1447.6 L583.4 1358.4 L587.3 1259.4 L592.3 1219.8 L596.2 1203.0 L598.2 1204.0 L602.2 1275.3 L608.1 1281.2 L611.1 1338.6 L615.0 1398.1 L618.0 1431.7 L622.0 1436.7 L626.9 1437.7 L629.9 1450.5 L632.9 1427.8 L635.8 1388.2 L643.0 1277.7 L645.9 1228.2 L648.9 1186.6 L650.5 1183.6 L654.9 1196.5 L659.8 1224.2 L662.8 1257.9 L666.7 1307.4 L667.7 1318.8 L673.7 1378.3 L678.6 1427.8 L683.2 1453.5 L686.5 1408.0 L690.5 1403.0 L693.5 1378.3 L695.4 1322.8 L700.4 1299.0 L702.4 1238.1 L705.4 1148.9 L708.3 1119.2 L711.3 1099.4 L715.3 1095.5 L717.2 1101.4 L720.2 1129.1 L724.2 1178.6 L728.1 1238.1 L731.1 1297.5 L734.1 1337.1 L740.0 1332.1 L744.6 1341.0 L747.9 1317.3 L752.9 1257.9 L757.8 1218.3 L761.8 1168.7 L765.8 1129.1 L768.7 1099.4 L771.3 1082.6 L773.7 1119.2 L775.7 1168.7 L778.6 1238.1 L780.6 1291.5 L784.6 1293.5 L785.6 1317.3 L785.8 1328.7 L787.5 1374.3 L791.5 1374.3 L792.1 1326.8 L794.5 1378.3 L796.4 1396.1 L799.4 1374.3 L802.4 1338.6 L806.4 1299.0 L810.3 1277.7 L814.3 1218.3 L817.3 1158.8 L819.2 1119.2 L820.8 1100.4 L823.2 1139.0 L825.2 1168.7 L832.1 1166.8 L834.1 1218.3 L837.1 1257.9 L841.0 1287.6 L844.0 1318.8 L847.9 1358.4 L851.9 1390.1 L855.5 1402.0 L858.8 1388.2 L861.8 1348.5 L865.8 1299.0 L868.8 1267.8 L872.7 1238.1 L877.7 1226.2 L880.6 1198.4 L883.0 1176.7 L886.6 1202.4 L890.5 1257.9 L893.5 1317.3 L897.5 1327.2 L897.7 1326.8 L901.4 1358.4 L905.4 1388.2 L909.3 1417.9 L911.7 1434.7 L915.3 1408.0 L920.2 1358.4 L925.2 1308.9 L930.1 1259.4 L930.3 1257.9 L934.1 1218.3 L938.1 1190.5 L940.1 1177.7 L943.0 1198.4 L947.0 1238.1 L951.0 1287.6 L951.9 1308.9 L954.9 1362.4 L959.8 1364.4 L961.8 1398.1 L963.8 1437.7 L965.8 1413.9 L967.8 1441.6 L970.7 1413.9 L972.7 1427.8 L974.7 1398.1 L977.7 1384.2 L982.6 1374.3 L986.6 1318.8 L989.6 1269.3 L992.5 1225.7 L995.5 1265.4 L1000.4 1308.9 L1006.4 1342.6 L1010.4 1378.3 L1014.3 1394.1 L1017.3 1404.0 L1020.3 1427.8 L1026.2 1457.5 L1031.1 1485.2 L1035.5 1432.6 L1039.0 1386.0 L1042.4 1327.9 L1045.9 1280.2 L1049.4 1327.9 L1052.9 1358.1 L1056.4 1353.5 L1059.9 1334.9 L1062.2 1333.7 L1064.5 1348.8 L1065.5 1360.5"/>
</g>
<path class="ax" d="M380.4 1645.4 v-8.5 M380.4 1001.5 v8.5 M551.8 1645.4 v-8.5 M551.8 1001.5 v8.5 M723.0 1645.4 v-8.5 M723.0 1001.5 v8.5 M894.4 1645.4 v-8.5 M894.4 1001.5 v8.5 M211.0 1079.7 h8.5 M1065.0 1079.7 h-8.5 M211.0 1242.2 h8.5 M1065.0 1242.2 h-8.5 M211.0 1404.6 h8.5 M1065.0 1404.6 h-8.5 M211.0 1567.1 h8.5 M1065.0 1567.1 h-8.5"/>
<rect class="ax" x="211.0" y="1001.5" width="854.0" height="643.9"/>
<text class="tk" text-anchor="end" x="189.5" y="1101.8">20</text>
<text class="tk" text-anchor="end" x="189.5" y="1263.7">10</text>
<text class="tk" text-anchor="end" x="189.5" y="1425.6">0</text>
<text class="tk" y="1587.5"><tspan x="95.0" dy="2.3" textLength="34.2" lengthAdjust="spacingAndGlyphs">−</tspan><tspan text-anchor="end" x="189.5" dy="-2.3">10</tspan></text>
<text class="tk" text-anchor="middle" x="210.5" y="1717.4">2002</text>
<text class="tk" text-anchor="middle" x="381.3" y="1717.4">2005</text>
<text class="tk" text-anchor="middle" x="552.1" y="1717.4">2008</text>
<text class="tk" text-anchor="middle" x="722.9" y="1717.4">2011</text>
<text class="tk" text-anchor="middle" x="893.7" y="1717.4">2014</text>
<text class="tk" text-anchor="middle" x="1064.5" y="1717.4">2017</text>
<text class="lb" text-anchor="middle" x="638.9" y="1793.2">Time (year)</text>
<text class="lb" text-anchor="middle" transform="translate(67.4 1322.8) rotate(-90)">GWSA (cm)</text>
<text class="tt" text-anchor="middle" x="641.5" y="966.9">(c)</text>
</g>
<g id="panel-d">
<clipPath id="cpd"><rect x="1367.0" y="1001.5" width="852.0" height="643.9"/></clipPath>
<path class="gr" d="M1536.4 1001.5 V1645.4 M1707.8 1001.5 V1645.4 M1879.0 1001.5 V1645.4 M2050.4 1001.5 V1645.4 M1367.0 1100.5 H2219.0 M1367.0 1349.0 H2219.0 M1367.0 1597.5 H2219.0"/>
<g clip-path="url(#cpd)">
<path class="r" d="M1380.5 1487.0 L1385.2 1424.2 L1390.0 1344.0 L1394.7 1257.7 L1399.5 1179.2 L1403.6 1125.8 L1409.0 1191.3 L1413.7 1264.1 L1418.5 1344.3 L1423.2 1423.3 L1427.9 1492.8 L1432.0 1540.5 L1437.4 1476.7 L1442.2 1406.8 L1446.9 1329.6 L1451.7 1252.4 L1456.4 1182.8 L1461.7 1120.8 L1465.9 1172.4 L1470.6 1245.7 L1475.4 1328.3 L1480.1 1410.6 L1484.9 1483.2 L1488.8 1531.2 L1494.4 1466.2 L1499.1 1396.6 L1503.8 1319.9 L1508.6 1243.4 L1513.3 1174.7 L1518.5 1114.9 L1522.8 1168.0 L1527.6 1241.5 L1532.3 1323.9 L1537.1 1405.7 L1541.8 1477.7 L1545.6 1523.7 L1551.3 1455.5 L1556.0 1384.0 L1560.8 1305.6 L1565.5 1228.3 L1570.3 1160.0 L1574.6 1109.9 L1579.7 1172.9 L1584.5 1246.1 L1589.2 1326.8 L1594.0 1406.1 L1598.7 1475.7 L1602.5 1520.0 L1608.2 1449.8 L1613.0 1376.5 L1617.7 1296.2 L1622.4 1217.2 L1627.2 1147.6 L1631.4 1098.0 L1636.7 1165.8 L1641.4 1242.8 L1646.2 1327.1 L1650.9 1409.1 L1655.7 1479.8 L1658.7 1516.3 L1660.4 1499.0 L1665.1 1440.7 L1669.9 1370.9 L1674.6 1295.0 L1679.4 1220.1 L1684.1 1152.8 L1689.3 1094.0 L1693.6 1146.1 L1698.3 1218.2 L1703.1 1299.3 L1707.8 1380.8 L1712.6 1453.7 L1717.2 1510.2 L1722.1 1453.5 L1726.8 1384.3 L1731.6 1307.0 L1736.3 1229.2 L1741.0 1158.6 L1746.5 1094.0 L1750.5 1142.9 L1755.3 1215.2 L1760.0 1296.9 L1764.8 1378.5 L1769.5 1450.6 L1773.5 1499.0 L1779.0 1436.8 L1783.7 1369.2 L1788.5 1294.9 L1793.2 1221.7 L1798.0 1156.8 L1802.3 1109.4 L1807.5 1164.4 L1812.2 1227.9 L1816.9 1298.3 L1821.7 1368.4 L1826.4 1431.3 L1831.3 1482.7 L1835.9 1437.4 L1840.7 1379.3 L1845.4 1314.0 L1850.2 1248.5 L1854.9 1189.6 L1859.9 1140.1 L1864.4 1182.2 L1869.1 1237.8 L1873.9 1300.4 L1878.6 1363.5 L1883.4 1420.4 L1888.5 1469.5 L1890.9 1467.0 L1893.3 1458.8 L1897.0 1434.2 L1900.8 1400.5 L1903.7 1366.5 L1906.5 1325.4 L1911.2 1300.9 L1913.2 1239.6 L1915.1 1175.2 L1917.8 1167.5 L1920.7 1162.9 L1922.7 1181.4 L1925.6 1236.3 L1928.5 1302.4 L1930.4 1359.6 L1933.4 1403.7 L1937.2 1436.8 L1940.4 1451.2 L1943.5 1456.5 L1946.0 1454.2 L1948.5 1446.6 L1952.4 1424.1 L1956.4 1393.1 L1959.4 1361.8 L1962.3 1324.1 L1967.3 1301.6 L1969.3 1245.2 L1971.3 1186.1 L1974.2 1179.0 L1977.2 1174.8 L1979.3 1192.1 L1982.3 1243.5 L1985.3 1305.3 L1987.4 1358.8 L1990.4 1400.1 L1994.4 1431.1 L1997.7 1444.6 L2001.0 1449.5 L2003.5 1447.4 L2006.0 1440.1 L2009.9 1418.7 L2013.9 1389.2 L2016.9 1359.5 L2019.7 1323.6 L2024.7 1302.2 L2026.7 1248.7 L2028.7 1192.4 L2031.6 1185.7 L2034.6 1181.7 L2036.6 1198.4 L2039.6 1247.9 L2042.5 1307.5 L2044.5 1359.2 L2047.5 1398.9 L2051.4 1428.9 L2054.6 1441.8 L2057.8 1446.6 L2060.2 1444.5 L2062.6 1437.4 L2066.3 1416.4 L2070.2 1387.4 L2073.0 1358.3 L2075.8 1323.0 L2080.6 1302.0 L2082.5 1249.4 L2084.4 1194.2 L2087.2 1187.6 L2090.1 1183.7 L2092.2 1200.2 L2095.4 1249.2 L2098.5 1308.1 L2100.6 1359.2 L2103.8 1398.5 L2108.0 1428.1 L2111.4 1440.9 L2114.8 1445.6 L2117.0 1443.4 L2119.3 1436.1 L2122.7 1414.5 L2126.3 1384.7 L2129.0 1354.6 L2131.6 1318.3 L2136.1 1296.7 L2137.8 1242.5 L2139.6 1185.6 L2142.2 1178.9 L2144.9 1174.8 L2147.2 1191.8 L2150.6 1242.2 L2153.9 1303.0 L2156.2 1355.6 L2159.6 1396.0 L2164.0 1426.5 L2167.7 1439.7 L2171.3 1444.6 L2173.5 1442.4 L2175.8 1434.8 L2179.3 1412.3 L2182.9 1381.4 L2185.6 1350.3 L2188.2 1312.7 L2192.7 1290.2 L2194.5 1234.1 L2196.3 1175.1 L2198.9 1168.1 L2201.6 1163.9 L2203.6 1181.5 L2206.6 1233.9 L2209.5 1296.9 L2211.5 1351.6 L2214.5 1393.6 L2218.4 1425.2"/>
<path class="b" d="M1379.9 1422.7 L1383.8 1407.8 L1388.8 1437.6 L1393.7 1418.7 L1398.7 1408.8 L1403.6 1432.6 L1407.6 1418.7 L1413.5 1408.8 L1418.5 1397.0 L1423.4 1383.1 L1428.4 1369.2 L1432.4 1365.3 L1436.3 1369.2 L1440.3 1383.1 L1445.2 1349.4 L1449.2 1325.7 L1453.2 1331.6 L1457.1 1327.6 L1460.1 1299.9 L1462.1 1282.2 L1466.0 1280.3 L1470.0 1284.2 L1474.9 1300.1 L1480.9 1310.0 L1483.9 1319.7 L1487.8 1326.6 L1492.8 1325.7 L1496.7 1307.8 L1499.7 1309.8 L1502.7 1355.4 L1505.6 1339.5 L1509.6 1323.7 L1514.6 1309.8 L1518.5 1306.8 L1522.5 1344.5 L1525.4 1327.6 L1530.4 1319.7 L1535.4 1327.6 L1541.3 1327.6 L1545.3 1309.8 L1550.2 1315.7 L1555.2 1327.6 L1559.1 1309.8 L1563.1 1292.1 L1567.0 1310.0 L1567.2 1329.6 L1570.0 1359.3 L1573.0 1374.2 L1577.9 1365.3 L1582.9 1376.2 L1587.8 1369.2 L1592.8 1363.3 L1597.7 1359.3 L1602.7 1363.3 L1607.0 1389.0 L1611.6 1369.2 L1615.6 1363.3 L1618.5 1369.2 L1621.5 1393.0 L1626.5 1391.0 L1631.4 1397.0 L1633.4 1369.2 L1636.4 1338.5 L1640.3 1359.3 L1646.3 1365.3 L1653.2 1361.3 L1659.1 1363.3 L1662.1 1341.5 L1666.1 1336.5 L1670.0 1341.5 L1673.0 1369.2 L1676.0 1389.0 L1679.9 1393.0 L1683.9 1349.4 L1687.9 1309.8 L1691.8 1383.1 L1695.8 1355.4 L1699.7 1345.5 L1705.7 1347.4 L1711.6 1351.4 L1717.6 1353.4 L1722.5 1361.3 L1726.5 1365.3 L1730.4 1359.3 L1733.4 1329.6 L1737.4 1256.5 L1741.3 1253.5 L1746.3 1296.1 L1750.2 1272.3 L1753.2 1310.0 L1758.2 1317.9 L1767.1 1319.9 L1774.0 1315.9 L1778.0 1307.0 L1780.9 1317.9 L1786.9 1313.9 L1792.0 1305.5 L1797.0 1337.2 L1801.9 1359.0 L1806.9 1379.2 L1811.8 1349.5 L1816.8 1341.6 L1822.7 1337.6 L1828.6 1337.6 L1834.6 1339.6 L1838.5 1311.9 L1843.5 1311.9 L1848.4 1327.7 L1853.4 1337.6 L1856.4 1327.7 L1860.3 1299.6 L1864.3 1290.6 L1868.3 1292.6 L1872.2 1307.5 L1877.2 1318.4 L1883.1 1318.4 L1888.1 1314.4 L1891.0 1337.2 L1895.0 1357.4 L1899.9 1369.3 L1904.9 1379.2 L1910.8 1377.2 L1916.8 1381.2 L1922.7 1387.1 L1928.7 1393.1 L1933.6 1383.2 L1938.6 1378.2 L1941.5 1380.2 L1945.5 1390.1 L1950.4 1383.2 L1956.4 1365.4 L1960.4 1339.6 L1963.3 1313.9 L1966.3 1327.7 L1970.3 1349.5 L1974.2 1355.5 L1978.2 1331.7 L1983.1 1329.7 L1988.1 1335.7 L1993.0 1343.6 L1997.0 1349.5 L2001.0 1337.6 L2004.9 1334.1 L2009.9 1334.1 L2013.8 1341.6 L2016.8 1359.4 L2019.8 1379.2 L2024.7 1399.0 L2029.7 1410.9 L2034.6 1416.9 L2039.6 1403.0 L2042.5 1385.2 L2047.5 1375.3 L2053.4 1371.3 L2059.4 1369.3 L2062.4 1355.5 L2066.3 1349.5 L2071.3 1353.5 L2076.2 1363.4 L2081.2 1379.2 L2085.1 1359.4 L2090.1 1307.9 L2098.0 1327.7 L2102.0 1337.6 L2105.9 1346.5 L2110.9 1341.6 L2113.8 1347.5 L2116.8 1359.4 L2120.8 1379.2 L2125.7 1395.1 L2130.7 1403.0 L2134.6 1403.0 L2138.6 1385.2 L2141.6 1403.0 L2144.5 1434.7 L2148.5 1379.2 L2154.4 1357.4 L2159.4 1357.4 L2162.4 1367.3 L2166.3 1369.3 L2170.3 1367.3 L2176.2 1347.5 L2182.2 1323.8 L2187.1 1305.9 L2191.1 1287.7 L2195.1 1284.7 L2199.0 1287.7 L2207.9 1297.6 L2212.9 1305.5 L2215.8 1297.6 L2219.0 1296.6"/>
<path class="k" d="M1379.9 1510.8 L1382.8 1468.3 L1386.8 1408.8 L1390.8 1349.4 L1394.7 1218.9 L1398.7 1179.3 L1403.6 1162.4 L1406.6 1162.4 L1409.6 1189.2 L1413.5 1258.5 L1416.5 1349.4 L1420.5 1428.6 L1423.4 1458.4 L1428.4 1488.1 L1431.4 1512.8 L1435.3 1478.2 L1438.3 1458.4 L1441.3 1448.4 L1443.3 1389.0 L1445.2 1329.6 L1446.2 1258.5 L1450.2 1189.2 L1454.1 1100.0 L1457.1 1040.6 L1460.1 1023.8 L1463.1 1023.8 L1466.0 1040.6 L1469.0 1100.0 L1472.0 1179.3 L1474.9 1258.5 L1476.9 1349.4 L1481.9 1408.8 L1485.8 1458.4 L1489.4 1480.1 L1492.8 1448.4 L1495.7 1389.0 L1497.7 1369.2 L1502.7 1355.4 L1504.7 1329.6 L1507.6 1228.8 L1511.6 1139.6 L1514.6 1080.2 L1516.5 1049.5 L1518.5 1048.5 L1521.5 1090.1 L1525.4 1169.4 L1529.4 1258.5 L1533.4 1349.4 L1537.3 1408.8 L1541.3 1462.3 L1545.3 1467.3 L1550.2 1462.3 L1554.2 1428.6 L1557.1 1389.0 L1560.1 1329.6 L1560.3 1258.5 L1563.1 1218.9 L1569.0 1199.1 L1572.0 1159.4 L1574.0 1127.8 L1576.0 1126.8 L1579.9 1143.6 L1581.9 1179.3 L1584.9 1258.5 L1587.8 1349.4 L1592.8 1428.6 L1596.7 1468.3 L1602.7 1517.8 L1607.0 1541.5 L1610.6 1507.9 L1614.6 1428.6 L1618.5 1369.2 L1622.5 1309.8 L1624.5 1258.5 L1628.4 1189.2 L1631.4 1149.5 L1634.4 1131.7 L1637.4 1130.7 L1639.3 1169.4 L1642.3 1258.5 L1644.3 1349.4 L1648.2 1408.8 L1652.2 1468.3 L1656.2 1517.8 L1659.7 1540.5 L1663.1 1507.9 L1666.1 1478.2 L1669.0 1448.4 L1675.0 1436.6 L1678.0 1408.8 L1680.9 1389.0 L1683.9 1329.6 L1684.1 1218.9 L1684.9 1119.8 L1686.9 1067.3 L1689.8 1067.3 L1692.8 1139.6 L1696.8 1238.7 L1699.7 1349.4 L1703.7 1408.8 L1707.7 1468.3 L1712.6 1517.8 L1717.6 1536.6 L1722.5 1527.7 L1726.5 1498.0 L1730.4 1448.4 L1733.4 1389.0 L1736.4 1329.6 L1737.4 1218.9 L1740.3 1119.8 L1743.3 1080.2 L1745.3 1068.3 L1746.9 1068.3 L1750.2 1100.0 L1753.2 1179.3 L1756.2 1258.5 L1758.2 1349.4 L1761.1 1408.8 L1765.1 1458.4 L1769.1 1488.1 L1773.4 1505.9 L1778.0 1484.1 L1783.9 1472.2 L1786.9 1448.4 L1790.8 1389.0 L1792.0 1277.8 L1796.0 1228.3 L1799.9 1178.7 L1802.9 1160.9 L1805.9 1188.6 L1809.8 1258.0 L1813.8 1327.3 L1814.0 1359.4 L1817.7 1428.7 L1821.7 1478.3 L1826.7 1511.9 L1831.6 1523.8 L1836.6 1517.9 L1839.5 1478.3 L1843.5 1428.7 L1847.5 1369.3 L1851.4 1297.6 L1855.4 1208.4 L1858.3 1160.9 L1860.3 1151.0 L1864.3 1154.0 L1867.3 1208.4 L1870.2 1287.7 L1871.2 1359.4 L1874.2 1418.8 L1877.2 1468.4 L1882.1 1494.1 L1888.1 1500.0 L1892.6 1522.8 L1897.0 1508.0 L1902.9 1478.3 L1906.9 1438.6 L1909.8 1389.1 L1912.8 1339.6 L1913.0 1327.3 L1913.8 1277.8 L1916.8 1266.9 L1920.7 1265.9 L1923.7 1287.7 L1926.7 1337.2 L1926.9 1359.4 L1928.7 1438.6 L1933.6 1508.0 L1939.6 1553.5 L1944.9 1577.3 L1949.5 1563.4 L1954.4 1517.9 L1958.4 1478.3 L1961.3 1418.8 L1964.3 1359.4 L1970.3 1356.4 L1973.2 1319.8 L1973.4 1307.5 L1975.2 1258.0 L1977.2 1245.1 L1980.2 1267.9 L1983.1 1317.4 L1983.3 1359.4 L1987.1 1438.6 L1992.0 1498.1 L1997.6 1534.7 L2001.9 1521.8 L2007.9 1494.1 L2015.8 1474.3 L2020.8 1454.5 L2025.7 1449.5 L2027.7 1418.8 L2029.7 1369.3 L2031.7 1350.5 L2034.6 1353.5 L2037.6 1399.0 L2041.6 1458.4 L2047.5 1517.9 L2053.4 1557.5 L2058.4 1573.3 L2062.4 1553.5 L2067.3 1527.8 L2073.2 1504.0 L2078.2 1468.4 L2082.2 1448.5 L2085.1 1418.8 L2087.1 1359.4 L2087.3 1258.0 L2088.5 1250.0 L2092.1 1267.9 L2095.0 1307.5 L2099.0 1347.1 L2099.2 1359.4 L2100.0 1418.8 L2103.9 1468.4 L2108.9 1517.9 L2116.8 1557.5 L2124.7 1587.2 L2128.7 1567.4 L2132.7 1517.9 L2137.6 1458.4 L2142.6 1399.0 L2146.5 1359.4 L2148.5 1354.5 L2151.5 1359.4 L2153.5 1399.0 L2157.4 1468.4 L2162.4 1527.8 L2166.3 1567.4 L2169.9 1587.2 L2175.2 1573.3 L2180.2 1547.6 L2186.1 1508.0 L2190.1 1468.4 L2194.1 1418.8 L2198.0 1359.4 L2198.2 1277.8 L2199.0 1238.2 L2201.6 1228.3 L2205.0 1248.1 L2207.9 1297.6 L2211.9 1347.1 L2212.1 1359.4 L2212.9 1418.8 L2214.9 1458.4 L2218.2 1479.2"/>
</g>
<path class="ax" d="M1536.4 1645.4 v-8.5 M1536.4 1001.5 v8.5 M1707.8 1645.4 v-8.5 M1707.8 1001.5 v8.5 M1879.0 1645.4 v-8.5 M1879.0 1001.5 v8.5 M2050.4 1645.4 v-8.5 M2050.4 1001.5 v8.5 M1367.0 1100.5 h8.5 M2219.0 1100.5 h-8.5 M1367.0 1349.0 h8.5 M2219.0 1349.0 h-8.5 M1367.0 1597.5 h8.5 M2219.0 1597.5 h-8.5"/>
<rect class="ax" x="1367.0" y="1001.5" width="852.0" height="643.9"/>
<text class="tk" text-anchor="end" x="1345.5" y="1120.4">5</text>
<text class="tk" text-anchor="end" x="1345.5" y="1369.1">0</text>
<text class="tk" y="1617.7"><tspan x="1278.8" dy="2.3" textLength="34.2" lengthAdjust="spacingAndGlyphs">−</tspan><tspan text-anchor="end" x="1345.5" dy="-2.3">5</tspan></text>
<text class="tk" text-anchor="middle" x="1366.5" y="1717.4">2002</text>
<text class="tk" text-anchor="middle" x="1536.9" y="1717.4">2005</text>
<text class="tk" text-anchor="middle" x="1707.3" y="1717.4">2008</text>
<text class="tk" text-anchor="middle" x="1877.7" y="1717.4">2011</text>
<text class="tk" text-anchor="middle" x="2048.1" y="1717.4">2014</text>
<text class="tk" text-anchor="middle" x="2218.5" y="1717.4">2017</text>
<text class="lb" text-anchor="middle" x="1793.9" y="1793.2">Time (year)</text>
<text class="lb" text-anchor="middle" transform="translate(1251.2 1322.8) rotate(-90)">SMSA (cm)</text>
<text class="tt" text-anchor="middle" x="1793.9" y="966.9">(d)</text>
</g>
<g id="legend">
<rect x="981.5" y="775.9" width="523.3" height="187.4" fill="#fff" stroke="#262626" stroke-width="2.2"/>
<path class="r" d="M993.8 808.3 H1121"/>
<text class="lg" x="1129.5" y="829.8">Seasonal</text>
<path class="b" d="M993.8 869.5 H1121"/>
<text class="lg" x="1129.5" y="889.0">Deseasonalized</text>
<path class="k" d="M993.8 930.0 H1121"/>
<text class="lg" x="1129.5" y="949.3">Water component</text>
</g>
</svg></body></html>
